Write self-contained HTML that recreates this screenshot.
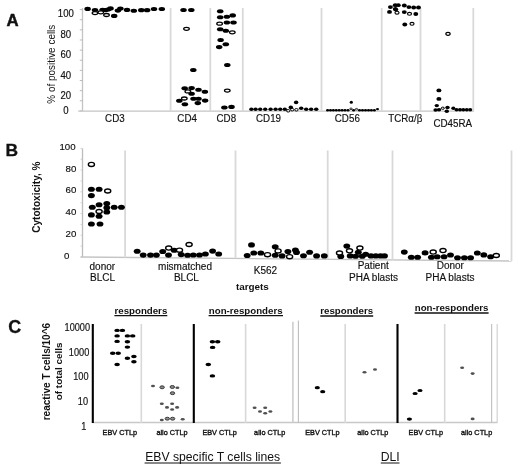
<!DOCTYPE html>
<html><head><meta charset="utf-8"><style>
html,body{margin:0;padding:0;background:#fff;}
body{width:520px;height:467px;overflow:hidden;}
svg{display:block;filter:blur(0.3px);}
text{font-family:"Liberation Sans", sans-serif;fill:#111;}
</style></head><body>
<svg width="520" height="467" viewBox="0 0 520 467">
<rect width="520" height="467" fill="#fff"/>
<text transform="translate(6.6,25.7) scale(1,1)" font-size="16.8" text-anchor="start" font-weight="bold" stroke="#111" stroke-width="0.45">A</text>
<text transform="translate(54.6,64.2) rotate(-90) scale(1,1.05)" font-size="9.95" text-anchor="middle">% of positive cells</text>
<text transform="translate(65.8,17.3) scale(1,1.13)" font-size="9.6" text-anchor="middle" font-weight="normal" stroke="#111" stroke-width="0.15">100</text>
<text transform="translate(65.8,37.5) scale(1,1.13)" font-size="9.6" text-anchor="middle" font-weight="normal" stroke="#111" stroke-width="0.15">80</text>
<text transform="translate(65.8,58.2) scale(1,1.13)" font-size="9.6" text-anchor="middle" font-weight="normal" stroke="#111" stroke-width="0.15">60</text>
<text transform="translate(65.8,78.9) scale(1,1.13)" font-size="9.6" text-anchor="middle" font-weight="normal" stroke="#111" stroke-width="0.15">40</text>
<text transform="translate(65.8,99.4) scale(1,1.13)" font-size="9.6" text-anchor="middle" font-weight="normal" stroke="#111" stroke-width="0.15">20</text>
<text transform="translate(65.8,114.4) scale(1,1.13)" font-size="9.6" text-anchor="middle" font-weight="normal" stroke="#111" stroke-width="0.15">0</text>
<line x1="82.5" y1="8" x2="82.5" y2="111" stroke="#c4c4c4" stroke-width="1.3"/>
<line x1="79.8" y1="9.6" x2="82.4" y2="9.6" stroke="#b4b4b4" stroke-width="0.9"/>
<line x1="79.8" y1="19.73" x2="82.4" y2="19.73" stroke="#b4b4b4" stroke-width="0.9"/>
<line x1="79.8" y1="29.86" x2="82.4" y2="29.86" stroke="#b4b4b4" stroke-width="0.9"/>
<line x1="79.8" y1="39.99" x2="82.4" y2="39.99" stroke="#b4b4b4" stroke-width="0.9"/>
<line x1="79.8" y1="50.120000000000005" x2="82.4" y2="50.120000000000005" stroke="#b4b4b4" stroke-width="0.9"/>
<line x1="79.8" y1="60.25000000000001" x2="82.4" y2="60.25000000000001" stroke="#b4b4b4" stroke-width="0.9"/>
<line x1="79.8" y1="70.38" x2="82.4" y2="70.38" stroke="#b4b4b4" stroke-width="0.9"/>
<line x1="79.8" y1="80.51" x2="82.4" y2="80.51" stroke="#b4b4b4" stroke-width="0.9"/>
<line x1="79.8" y1="90.64" x2="82.4" y2="90.64" stroke="#b4b4b4" stroke-width="0.9"/>
<line x1="79.8" y1="100.77" x2="82.4" y2="100.77" stroke="#b4b4b4" stroke-width="0.9"/>
<line x1="79.8" y1="110.9" x2="82.4" y2="110.9" stroke="#b4b4b4" stroke-width="0.9"/>
<line x1="78.2" y1="111.2" x2="474" y2="111.2" stroke="#c4c4c4" stroke-width="1.3"/>
<line x1="170.6" y1="8" x2="170.6" y2="111" stroke="#d9d9d9" stroke-width="1.8"/>
<line x1="210.3" y1="8" x2="210.3" y2="111" stroke="#d9d9d9" stroke-width="1.8"/>
<line x1="242.8" y1="8" x2="242.8" y2="111" stroke="#d9d9d9" stroke-width="1.8"/>
<line x1="321.5" y1="8" x2="321.5" y2="111" stroke="#d9d9d9" stroke-width="1.8"/>
<line x1="381.7" y1="8" x2="381.7" y2="111" stroke="#d9d9d9" stroke-width="1.8"/>
<line x1="420.5" y1="8" x2="420.5" y2="111" stroke="#d9d9d9" stroke-width="1.8"/>
<line x1="473.3" y1="8" x2="473.3" y2="111" stroke="#d9d9d9" stroke-width="1.8"/>
<text transform="translate(114.9,121.7) scale(1,1.08)" font-size="9.8" text-anchor="middle" font-weight="normal" stroke="#111" stroke-width="0.15">CD3</text>
<text transform="translate(187.1,121.7) scale(1,1.08)" font-size="9.8" text-anchor="middle" font-weight="normal" stroke="#111" stroke-width="0.15">CD4</text>
<text transform="translate(226.3,121.7) scale(1,1.08)" font-size="9.8" text-anchor="middle" font-weight="normal" stroke="#111" stroke-width="0.15">CD8</text>
<text transform="translate(268.5,121.7) scale(1,1.08)" font-size="9.8" text-anchor="middle" font-weight="normal" stroke="#111" stroke-width="0.15">CD19</text>
<text transform="translate(347.3,121.7) scale(1,1.08)" font-size="9.8" text-anchor="middle" font-weight="normal" stroke="#111" stroke-width="0.15">CD56</text>
<text transform="translate(405.3,121.5) scale(1,1.08)" font-size="9.8" text-anchor="middle" font-weight="normal" stroke="#111" stroke-width="0.15">TCR&#945;/&#946;</text>
<text transform="translate(452.7,126.5) scale(1,1.08)" font-size="9.8" text-anchor="middle" font-weight="normal" stroke="#111" stroke-width="0.15">CD45RA</text>
<ellipse cx="87.6" cy="8.9" rx="3.25" ry="2.05" fill="#000"/>
<ellipse cx="95" cy="10.0" rx="3.25" ry="2.05" fill="#000"/>
<ellipse cx="102.6" cy="9.8" rx="3.25" ry="2.05" fill="#000"/>
<ellipse cx="105.8" cy="10.1" rx="3.25" ry="2.05" fill="#000"/>
<ellipse cx="108" cy="9.5" rx="3.25" ry="2.05" fill="#000"/>
<ellipse cx="110.5" cy="8.4" rx="3.25" ry="2.05" fill="#000"/>
<ellipse cx="114.2" cy="15.9" rx="3.25" ry="2.05" fill="#000"/>
<ellipse cx="117.9" cy="10.6" rx="3.25" ry="2.05" fill="#000"/>
<ellipse cx="120.4" cy="8.6" rx="3.25" ry="2.05" fill="#000"/>
<ellipse cx="127.0" cy="9.9" rx="3.25" ry="2.05" fill="#000"/>
<ellipse cx="133.8" cy="10.7" rx="3.25" ry="2.05" fill="#000"/>
<ellipse cx="141.3" cy="10.15" rx="3.25" ry="2.05" fill="#000"/>
<ellipse cx="147.1" cy="10.15" rx="3.25" ry="2.05" fill="#000"/>
<ellipse cx="154" cy="9.0" rx="3.25" ry="2.05" fill="#000"/>
<ellipse cx="161.8" cy="9.0" rx="3.25" ry="2.05" fill="#000"/>
<ellipse cx="95" cy="13.1" rx="2.80" ry="1.50" fill="#fff" stroke="#000" stroke-width="1.3"/>
<ellipse cx="100.8" cy="12.3" rx="2.80" ry="1.50" fill="#fff" stroke="#000" stroke-width="1.3"/>
<ellipse cx="106.5" cy="15.0" rx="2.80" ry="1.50" fill="#fff" stroke="#000" stroke-width="1.3"/>
<ellipse cx="183.5" cy="10" rx="3.25" ry="2.05" fill="#000"/>
<ellipse cx="191.3" cy="10" rx="3.25" ry="2.05" fill="#000"/>
<ellipse cx="193.3" cy="70" rx="3.25" ry="2.05" fill="#000"/>
<ellipse cx="184.7" cy="88.3" rx="3.25" ry="2.05" fill="#000"/>
<ellipse cx="191.6" cy="88.1" rx="3.25" ry="2.05" fill="#000"/>
<ellipse cx="191.6" cy="93.8" rx="3.25" ry="2.05" fill="#000"/>
<ellipse cx="198.5" cy="89.8" rx="3.25" ry="2.05" fill="#000"/>
<ellipse cx="204.9" cy="91.8" rx="3.25" ry="2.05" fill="#000"/>
<ellipse cx="179.3" cy="100.8" rx="3.25" ry="2.05" fill="#000"/>
<ellipse cx="184.9" cy="104.2" rx="3.25" ry="2.05" fill="#000"/>
<ellipse cx="193.5" cy="98.8" rx="3.25" ry="2.05" fill="#000"/>
<ellipse cx="198.5" cy="98.8" rx="3.25" ry="2.05" fill="#000"/>
<ellipse cx="197.8" cy="103.1" rx="3.25" ry="2.05" fill="#000"/>
<ellipse cx="205.1" cy="100.6" rx="3.25" ry="2.05" fill="#000"/>
<ellipse cx="186.5" cy="28.8" rx="2.80" ry="1.50" fill="#fff" stroke="#000" stroke-width="1.3"/>
<ellipse cx="187.8" cy="91.4" rx="2.80" ry="1.50" fill="#fff" stroke="#000" stroke-width="1.3"/>
<ellipse cx="184.3" cy="98.5" rx="2.80" ry="1.50" fill="#fff" stroke="#000" stroke-width="1.3"/>
<ellipse cx="220.2" cy="11.2" rx="3.25" ry="2.05" fill="#000"/>
<ellipse cx="220.2" cy="17.3" rx="3.25" ry="2.05" fill="#000"/>
<ellipse cx="226.9" cy="16.7" rx="3.25" ry="2.05" fill="#000"/>
<ellipse cx="232.7" cy="15.4" rx="3.25" ry="2.05" fill="#000"/>
<ellipse cx="226.9" cy="22.5" rx="3.25" ry="2.05" fill="#000"/>
<ellipse cx="233.5" cy="22.5" rx="3.25" ry="2.05" fill="#000"/>
<ellipse cx="220.2" cy="29.2" rx="3.25" ry="2.05" fill="#000"/>
<ellipse cx="225.8" cy="30.8" rx="3.25" ry="2.05" fill="#000"/>
<ellipse cx="220.6" cy="40" rx="3.25" ry="2.05" fill="#000"/>
<ellipse cx="225.8" cy="44.2" rx="3.25" ry="2.05" fill="#000"/>
<ellipse cx="219.2" cy="47.1" rx="3.25" ry="2.05" fill="#000"/>
<ellipse cx="227.3" cy="65" rx="3.25" ry="2.05" fill="#000"/>
<ellipse cx="224.4" cy="107.5" rx="3.25" ry="2.05" fill="#000"/>
<ellipse cx="231.5" cy="106.9" rx="3.25" ry="2.05" fill="#000"/>
<ellipse cx="219.6" cy="23.7" rx="2.80" ry="1.50" fill="#fff" stroke="#000" stroke-width="1.3"/>
<ellipse cx="232.3" cy="32.3" rx="2.80" ry="1.50" fill="#fff" stroke="#000" stroke-width="1.3"/>
<ellipse cx="227.3" cy="90.6" rx="2.80" ry="1.50" fill="#fff" stroke="#000" stroke-width="1.3"/>
<ellipse cx="390.4" cy="7.1" rx="2.45" ry="1.9" fill="#000"/>
<ellipse cx="395.2" cy="5.2" rx="2.45" ry="1.9" fill="#000"/>
<ellipse cx="398.3" cy="5.2" rx="2.45" ry="1.9" fill="#000"/>
<ellipse cx="395.3" cy="8.9" rx="2.45" ry="1.9" fill="#000"/>
<ellipse cx="395.8" cy="9.6" rx="2.45" ry="1.9" fill="#000"/>
<ellipse cx="404.3" cy="5.5" rx="2.45" ry="1.9" fill="#000"/>
<ellipse cx="408.9" cy="7.1" rx="2.45" ry="1.9" fill="#000"/>
<ellipse cx="413.7" cy="7.5" rx="2.45" ry="1.9" fill="#000"/>
<ellipse cx="418.5" cy="7.5" rx="2.45" ry="1.9" fill="#000"/>
<ellipse cx="389.5" cy="11.9" rx="2.45" ry="1.9" fill="#000"/>
<ellipse cx="404.3" cy="12.1" rx="2.45" ry="1.9" fill="#000"/>
<ellipse cx="415.8" cy="14" rx="2.45" ry="1.9" fill="#000"/>
<ellipse cx="404.8" cy="24.5" rx="2.45" ry="1.9" fill="#000"/>
<ellipse cx="397" cy="12.7" rx="2.03" ry="1.43" fill="#fff" stroke="#000" stroke-width="1.15"/>
<ellipse cx="409.5" cy="13.8" rx="2.03" ry="1.43" fill="#fff" stroke="#000" stroke-width="1.15"/>
<ellipse cx="412" cy="23.8" rx="2.03" ry="1.43" fill="#fff" stroke="#000" stroke-width="1.15"/>
<ellipse cx="251.4" cy="109.2" rx="2.2" ry="1.75" fill="#000"/>
<ellipse cx="255.6" cy="109.2" rx="2.2" ry="1.75" fill="#000"/>
<ellipse cx="260.2" cy="109.2" rx="2.2" ry="1.75" fill="#000"/>
<ellipse cx="265.2" cy="109.2" rx="2.2" ry="1.75" fill="#000"/>
<ellipse cx="270.6" cy="109.2" rx="2.2" ry="1.75" fill="#000"/>
<ellipse cx="275.6" cy="109.2" rx="2.2" ry="1.75" fill="#000"/>
<ellipse cx="280.2" cy="109.2" rx="2.2" ry="1.75" fill="#000"/>
<ellipse cx="284.8" cy="109.2" rx="2.2" ry="1.75" fill="#000"/>
<ellipse cx="290.8" cy="107.4" rx="2.25" ry="1.8" fill="#000"/>
<ellipse cx="301.2" cy="108.3" rx="2.25" ry="1.8" fill="#000"/>
<ellipse cx="306.2" cy="109.2" rx="2.25" ry="1.8" fill="#000"/>
<ellipse cx="311.1" cy="109.2" rx="2.25" ry="1.8" fill="#000"/>
<ellipse cx="316.2" cy="109.2" rx="2.25" ry="1.8" fill="#000"/>
<ellipse cx="296.1" cy="102.4" rx="2.25" ry="1.8" fill="#000"/>
<ellipse cx="288.2" cy="110.8" rx="1.70" ry="1.25" fill="#fff" stroke="#000" stroke-width="1.0"/>
<ellipse cx="292.2" cy="109.7" rx="1.70" ry="1.25" fill="#fff" stroke="#000" stroke-width="1.0"/>
<ellipse cx="296.4" cy="109.8" rx="1.70" ry="1.25" fill="#fff" stroke="#000" stroke-width="1.0"/>
<ellipse cx="327.6" cy="110.2" rx="1.55" ry="1.3" fill="#000"/>
<ellipse cx="330.5" cy="110.2" rx="1.55" ry="1.3" fill="#000"/>
<ellipse cx="333.4" cy="110.2" rx="1.55" ry="1.3" fill="#000"/>
<ellipse cx="336.3" cy="110.2" rx="1.55" ry="1.3" fill="#000"/>
<ellipse cx="339.2" cy="110.2" rx="1.55" ry="1.3" fill="#000"/>
<ellipse cx="342.1" cy="110.2" rx="1.55" ry="1.3" fill="#000"/>
<ellipse cx="345.0" cy="110.2" rx="1.55" ry="1.3" fill="#000"/>
<ellipse cx="348.0" cy="110.2" rx="1.55" ry="1.3" fill="#000"/>
<ellipse cx="353.6" cy="110.2" rx="1.55" ry="1.3" fill="#000"/>
<ellipse cx="359.5" cy="110.2" rx="1.55" ry="1.3" fill="#000"/>
<ellipse cx="362.5" cy="110.2" rx="1.55" ry="1.3" fill="#000"/>
<ellipse cx="365.5" cy="110.2" rx="1.55" ry="1.3" fill="#000"/>
<ellipse cx="368.5" cy="110.2" rx="1.55" ry="1.3" fill="#000"/>
<ellipse cx="371.4" cy="110.2" rx="1.55" ry="1.3" fill="#000"/>
<ellipse cx="374.4" cy="110.2" rx="1.55" ry="1.3" fill="#000"/>
<ellipse cx="351" cy="108.8" rx="1.20" ry="0.80" fill="#fff" stroke="#000" stroke-width="0.8"/>
<ellipse cx="356.5" cy="109.2" rx="1.20" ry="0.80" fill="#fff" stroke="#000" stroke-width="0.8"/>
<ellipse cx="377.5" cy="109.1" rx="1.5" ry="1.2" fill="#000"/>
<ellipse cx="351.3" cy="102.2" rx="1.6" ry="1.5" fill="#000"/>
<ellipse cx="448" cy="33.85" rx="2.15" ry="1.55" fill="#fff" stroke="#000" stroke-width="1.2"/>
<ellipse cx="438.9" cy="90.4" rx="2.5" ry="1.95" fill="#000"/>
<ellipse cx="438.9" cy="98.9" rx="2.5" ry="1.95" fill="#000"/>
<ellipse cx="436.8" cy="105.6" rx="2.2" ry="1.7" fill="#000"/>
<ellipse cx="435.6" cy="110.0" rx="2.2" ry="1.7" fill="#000"/>
<ellipse cx="439.0" cy="109.7" rx="2.2" ry="1.7" fill="#000"/>
<ellipse cx="447.5" cy="107.5" rx="2.2" ry="1.7" fill="#000"/>
<ellipse cx="446.8" cy="111.2" rx="2.2" ry="1.7" fill="#000"/>
<ellipse cx="453.3" cy="108.3" rx="2.05" ry="1.8" fill="#000"/>
<ellipse cx="456.5" cy="109.8" rx="2.05" ry="1.8" fill="#000"/>
<ellipse cx="460" cy="109.8" rx="2.05" ry="1.8" fill="#000"/>
<ellipse cx="463.3" cy="109.8" rx="2.05" ry="1.8" fill="#000"/>
<ellipse cx="466.8" cy="109.8" rx="2.05" ry="1.8" fill="#000"/>
<ellipse cx="470.2" cy="109.7" rx="2.05" ry="1.8" fill="#000"/>
<ellipse cx="442.8" cy="108.2" rx="1.60" ry="1.10" fill="#fff" stroke="#000" stroke-width="1.0"/>
<text transform="translate(5.4,156.3) scale(1,1)" font-size="17.4" text-anchor="start" font-weight="bold" stroke="#111" stroke-width="0.3">B</text>
<text transform="translate(39.7,197.1) rotate(-90) scale(1,1.05)" font-size="10.05" font-weight="bold" text-anchor="middle">Cytotoxicity, %</text>
<text transform="translate(75.6,149.5) scale(1,1.0)" font-size="9.7" text-anchor="end" font-weight="normal" stroke="#111" stroke-width="0.15">100</text>
<text transform="translate(76.39999999999999,171.9) scale(1,1.0)" font-size="9.7" text-anchor="end" font-weight="normal" stroke="#111" stroke-width="0.15">80</text>
<text transform="translate(76.39999999999999,193.3) scale(1,1.0)" font-size="9.7" text-anchor="end" font-weight="normal" stroke="#111" stroke-width="0.15">60</text>
<text transform="translate(76.39999999999999,214.6) scale(1,1.0)" font-size="9.7" text-anchor="end" font-weight="normal" stroke="#111" stroke-width="0.15">40</text>
<text transform="translate(76.39999999999999,236.9) scale(1,1.0)" font-size="9.7" text-anchor="end" font-weight="normal" stroke="#111" stroke-width="0.15">20</text>
<text transform="translate(66.7,258.5) scale(1,1.0)" font-size="9.7" text-anchor="middle" font-weight="normal" stroke="#111" stroke-width="0.15">0</text>
<line x1="82.5" y1="148.4" x2="82.5" y2="257" stroke="#bcbcbc" stroke-width="1.3"/>
<line x1="80.5" y1="257.0" x2="82.4" y2="257.0" stroke="#c8c8c8" stroke-width="0.8"/>
<line x1="80.5" y1="246.14" x2="82.4" y2="246.14" stroke="#c8c8c8" stroke-width="0.8"/>
<line x1="80.5" y1="235.28" x2="82.4" y2="235.28" stroke="#c8c8c8" stroke-width="0.8"/>
<line x1="80.5" y1="224.42000000000002" x2="82.4" y2="224.42000000000002" stroke="#c8c8c8" stroke-width="0.8"/>
<line x1="80.5" y1="213.56" x2="82.4" y2="213.56" stroke="#c8c8c8" stroke-width="0.8"/>
<line x1="80.5" y1="202.7" x2="82.4" y2="202.7" stroke="#c8c8c8" stroke-width="0.8"/>
<line x1="80.5" y1="191.84" x2="82.4" y2="191.84" stroke="#c8c8c8" stroke-width="0.8"/>
<line x1="80.5" y1="180.98000000000002" x2="82.4" y2="180.98000000000002" stroke="#c8c8c8" stroke-width="0.8"/>
<line x1="80.5" y1="170.12" x2="82.4" y2="170.12" stroke="#c8c8c8" stroke-width="0.8"/>
<line x1="80.5" y1="159.26" x2="82.4" y2="159.26" stroke="#c8c8c8" stroke-width="0.8"/>
<line x1="80.5" y1="148.4" x2="82.4" y2="148.4" stroke="#c8c8c8" stroke-width="0.8"/>
<line x1="80.6" y1="257" x2="511.5" y2="261" stroke="#c4c4c4" stroke-width="1.3"/>
<line x1="125.1" y1="150.5" x2="125.1" y2="257.4" stroke="#d9d9d9" stroke-width="1.8"/>
<line x1="235.5" y1="150.5" x2="235.5" y2="258.4" stroke="#d9d9d9" stroke-width="1.8"/>
<line x1="327.7" y1="150.5" x2="327.7" y2="259.3" stroke="#d9d9d9" stroke-width="1.8"/>
<line x1="392.5" y1="150.5" x2="392.5" y2="259.9" stroke="#d9d9d9" stroke-width="1.8"/>
<line x1="511.5" y1="150.5" x2="511.5" y2="261" stroke="#d9d9d9" stroke-width="1.8"/>
<ellipse cx="91.4" cy="189.2" rx="3.45" ry="2.55" fill="#000"/>
<ellipse cx="99.1" cy="189.2" rx="3.45" ry="2.55" fill="#000"/>
<ellipse cx="91.4" cy="195.6" rx="3.45" ry="2.55" fill="#000"/>
<ellipse cx="99.1" cy="204.7" rx="3.45" ry="2.55" fill="#000"/>
<ellipse cx="106.8" cy="203.5" rx="3.45" ry="2.55" fill="#000"/>
<ellipse cx="92.3" cy="207.2" rx="3.45" ry="2.55" fill="#000"/>
<ellipse cx="106.8" cy="207.7" rx="3.45" ry="2.55" fill="#000"/>
<ellipse cx="114.2" cy="207.2" rx="3.45" ry="2.55" fill="#000"/>
<ellipse cx="121.4" cy="207.2" rx="3.45" ry="2.55" fill="#000"/>
<ellipse cx="106.8" cy="212" rx="3.45" ry="2.55" fill="#000"/>
<ellipse cx="91.4" cy="214.9" rx="3.45" ry="2.55" fill="#000"/>
<ellipse cx="99.1" cy="216.3" rx="3.45" ry="2.55" fill="#000"/>
<ellipse cx="91.4" cy="224" rx="3.45" ry="2.55" fill="#000"/>
<ellipse cx="100" cy="224" rx="3.45" ry="2.55" fill="#000"/>
<ellipse cx="91.4" cy="164.4" rx="3.05" ry="2.05" fill="#fff" stroke="#000" stroke-width="1.4"/>
<ellipse cx="107.7" cy="191" rx="3.05" ry="2.05" fill="#fff" stroke="#000" stroke-width="1.4"/>
<ellipse cx="99.1" cy="211.5" rx="3.05" ry="2.05" fill="#fff" stroke="#000" stroke-width="1.4"/>
<ellipse cx="137.2" cy="251.3" rx="3.45" ry="2.55" fill="#000"/>
<ellipse cx="143.2" cy="255.1" rx="3.45" ry="2.55" fill="#000"/>
<ellipse cx="150.5" cy="255.1" rx="3.45" ry="2.55" fill="#000"/>
<ellipse cx="156.4" cy="255.1" rx="3.45" ry="2.55" fill="#000"/>
<ellipse cx="162.7" cy="251.5" rx="3.45" ry="2.55" fill="#000"/>
<ellipse cx="168.5" cy="255.1" rx="3.45" ry="2.55" fill="#000"/>
<ellipse cx="174.2" cy="250.2" rx="3.45" ry="2.55" fill="#000"/>
<ellipse cx="181.2" cy="254.6" rx="3.45" ry="2.55" fill="#000"/>
<ellipse cx="187.6" cy="255.2" rx="3.45" ry="2.55" fill="#000"/>
<ellipse cx="193.3" cy="255" rx="3.45" ry="2.55" fill="#000"/>
<ellipse cx="199.5" cy="255" rx="3.45" ry="2.55" fill="#000"/>
<ellipse cx="205.4" cy="254" rx="3.45" ry="2.55" fill="#000"/>
<ellipse cx="212.6" cy="251.1" rx="3.45" ry="2.55" fill="#000"/>
<ellipse cx="218.7" cy="254" rx="3.45" ry="2.55" fill="#000"/>
<ellipse cx="168.7" cy="248.1" rx="3.05" ry="2.05" fill="#fff" stroke="#000" stroke-width="1.4"/>
<ellipse cx="179.5" cy="250.2" rx="3.05" ry="2.05" fill="#fff" stroke="#000" stroke-width="1.4"/>
<ellipse cx="189.1" cy="244.5" rx="3.05" ry="2.05" fill="#fff" stroke="#000" stroke-width="1.4"/>
<ellipse cx="251.5" cy="244.9" rx="3.45" ry="2.55" fill="#000"/>
<ellipse cx="247.2" cy="255.5" rx="3.45" ry="2.55" fill="#000"/>
<ellipse cx="253.8" cy="253" rx="3.45" ry="2.55" fill="#000"/>
<ellipse cx="260.8" cy="253" rx="3.45" ry="2.55" fill="#000"/>
<ellipse cx="275.2" cy="246.7" rx="3.45" ry="2.55" fill="#000"/>
<ellipse cx="275.2" cy="255.3" rx="3.45" ry="2.55" fill="#000"/>
<ellipse cx="282.1" cy="255.9" rx="3.45" ry="2.55" fill="#000"/>
<ellipse cx="287.9" cy="251.6" rx="3.45" ry="2.55" fill="#000"/>
<ellipse cx="295.4" cy="250.1" rx="3.45" ry="2.55" fill="#000"/>
<ellipse cx="296.5" cy="252.4" rx="3.45" ry="2.55" fill="#000"/>
<ellipse cx="303.5" cy="255.7" rx="3.45" ry="2.55" fill="#000"/>
<ellipse cx="309.6" cy="252.2" rx="3.45" ry="2.55" fill="#000"/>
<ellipse cx="316.6" cy="255.9" rx="3.45" ry="2.55" fill="#000"/>
<ellipse cx="324.3" cy="255.9" rx="3.45" ry="2.55" fill="#000"/>
<ellipse cx="267.5" cy="254.7" rx="3.05" ry="2.05" fill="#fff" stroke="#000" stroke-width="1.4"/>
<ellipse cx="278.1" cy="250.9" rx="3.05" ry="2.05" fill="#fff" stroke="#000" stroke-width="1.4"/>
<ellipse cx="289.6" cy="256.7" rx="3.05" ry="2.05" fill="#fff" stroke="#000" stroke-width="1.4"/>
<ellipse cx="340.8" cy="256.4" rx="3.45" ry="2.55" fill="#000"/>
<ellipse cx="346.8" cy="246.1" rx="3.45" ry="2.55" fill="#000"/>
<ellipse cx="350.2" cy="255.9" rx="3.45" ry="2.55" fill="#000"/>
<ellipse cx="358.3" cy="252.2" rx="3.45" ry="2.55" fill="#000"/>
<ellipse cx="355.6" cy="256.2" rx="3.45" ry="2.55" fill="#000"/>
<ellipse cx="362.3" cy="256.2" rx="3.45" ry="2.55" fill="#000"/>
<ellipse cx="365.7" cy="254.2" rx="3.45" ry="2.55" fill="#000"/>
<ellipse cx="371" cy="255.9" rx="3.45" ry="2.55" fill="#000"/>
<ellipse cx="375.8" cy="255.9" rx="3.45" ry="2.55" fill="#000"/>
<ellipse cx="380.5" cy="255.9" rx="3.45" ry="2.55" fill="#000"/>
<ellipse cx="384.5" cy="255.9" rx="3.45" ry="2.55" fill="#000"/>
<ellipse cx="339.5" cy="253.0" rx="3.05" ry="2.05" fill="#fff" stroke="#000" stroke-width="1.4"/>
<ellipse cx="349.5" cy="250.8" rx="3.05" ry="2.05" fill="#fff" stroke="#000" stroke-width="1.4"/>
<ellipse cx="359.9" cy="248.1" rx="3.05" ry="2.05" fill="#fff" stroke="#000" stroke-width="1.4"/>
<ellipse cx="404.3" cy="252.1" rx="3.45" ry="2.55" fill="#000"/>
<ellipse cx="411.3" cy="257.3" rx="3.45" ry="2.55" fill="#000"/>
<ellipse cx="417.6" cy="257.3" rx="3.45" ry="2.55" fill="#000"/>
<ellipse cx="425.1" cy="252.9" rx="3.45" ry="2.55" fill="#000"/>
<ellipse cx="431.4" cy="257.3" rx="3.45" ry="2.55" fill="#000"/>
<ellipse cx="437.2" cy="256.7" rx="3.45" ry="2.55" fill="#000"/>
<ellipse cx="444.1" cy="256.7" rx="3.45" ry="2.55" fill="#000"/>
<ellipse cx="450.5" cy="255" rx="3.45" ry="2.55" fill="#000"/>
<ellipse cx="457.5" cy="257.8" rx="3.45" ry="2.55" fill="#000"/>
<ellipse cx="464.4" cy="257.8" rx="3.45" ry="2.55" fill="#000"/>
<ellipse cx="470.6" cy="257.8" rx="3.45" ry="2.55" fill="#000"/>
<ellipse cx="477.3" cy="253" rx="3.45" ry="2.55" fill="#000"/>
<ellipse cx="483.8" cy="254.9" rx="3.45" ry="2.55" fill="#000"/>
<ellipse cx="490.6" cy="256.8" rx="3.45" ry="2.55" fill="#000"/>
<ellipse cx="433.2" cy="252.1" rx="3.05" ry="2.05" fill="#fff" stroke="#000" stroke-width="1.4"/>
<ellipse cx="443" cy="250.6" rx="3.05" ry="2.05" fill="#fff" stroke="#000" stroke-width="1.4"/>
<ellipse cx="496.3" cy="255.5" rx="3.05" ry="2.05" fill="#fff" stroke="#000" stroke-width="1.4"/>
<text transform="translate(102.3,269.6) scale(1,1.0)" font-size="10.0" text-anchor="middle" font-weight="normal" stroke="#111" stroke-width="0.15">donor</text>
<text transform="translate(102.5,281.2) scale(1,1.0)" font-size="10.0" text-anchor="middle" font-weight="normal" stroke="#111" stroke-width="0.15">BLCL</text>
<text transform="translate(185,269.6) scale(1,1.0)" font-size="10.0" text-anchor="middle" font-weight="normal" stroke="#111" stroke-width="0.15">mismatched</text>
<text transform="translate(186.4,281.2) scale(1,1.0)" font-size="10.0" text-anchor="middle" font-weight="normal" stroke="#111" stroke-width="0.15">BLCL</text>
<text transform="translate(265.4,273.5) scale(1,1.0)" font-size="10.0" text-anchor="middle" font-weight="normal" stroke="#111" stroke-width="0.15">K562</text>
<text transform="translate(373.2,268.9) scale(1,1.0)" font-size="10.0" text-anchor="middle" font-weight="normal" stroke="#111" stroke-width="0.15">Patient</text>
<text transform="translate(373.5,280.7) scale(1,1.0)" font-size="10.0" text-anchor="middle" font-weight="normal" stroke="#111" stroke-width="0.15">PHA blasts</text>
<text transform="translate(450.3,269.1) scale(1,1.0)" font-size="10.0" text-anchor="middle" font-weight="normal" stroke="#111" stroke-width="0.15">Donor</text>
<text transform="translate(450,280.6) scale(1,1.0)" font-size="10.0" text-anchor="middle" font-weight="normal" stroke="#111" stroke-width="0.15">PHA blasts</text>
<text transform="translate(235.9,290.3) scale(1,1.0)" font-size="9.9" text-anchor="start" font-weight="bold" >targets</text>
<text transform="translate(8.2,332.7) scale(1,1)" font-size="17.9" text-anchor="start" font-weight="bold" stroke="#111" stroke-width="0.3">C</text>
<text transform="translate(50.0,371.6) rotate(-90)" font-size="10.05" font-weight="bold" text-anchor="middle">reactive T cells/10^6</text>
<text transform="translate(61.6,371.4) rotate(-90)" font-size="9.9" font-weight="bold" text-anchor="middle">of total cells</text>
<text transform="translate(90.10000000000001,330.9) scale(1,1.15)" font-size="9.2" text-anchor="end" font-weight="normal" stroke="#111" stroke-width="0.15">10000</text>
<text transform="translate(89.3,355.8) scale(1,1.15)" font-size="9.2" text-anchor="end" font-weight="normal" stroke="#111" stroke-width="0.15">1000</text>
<text transform="translate(88.5,380.4) scale(1,1.15)" font-size="9.2" text-anchor="end" font-weight="normal" stroke="#111" stroke-width="0.15">100</text>
<text transform="translate(88.0,405.09999999999997) scale(1,1.15)" font-size="9.2" text-anchor="end" font-weight="normal" stroke="#111" stroke-width="0.15">10</text>
<text transform="translate(86.3,429.8) scale(1,1.15)" font-size="9.2" text-anchor="end" font-weight="normal" stroke="#111" stroke-width="0.15">1</text>
<line x1="92.7" y1="422.5" x2="497.5" y2="422.5" stroke="#c8c8c8" stroke-width="1.3"/>
<line x1="92.8" y1="324" x2="92.8" y2="423" stroke="#000" stroke-width="2.1"/>
<line x1="193.8" y1="324" x2="193.8" y2="423" stroke="#000" stroke-width="2.1"/>
<line x1="397.5" y1="324" x2="397.5" y2="423" stroke="#000" stroke-width="2.1"/>
<line x1="141.3" y1="324" x2="141.3" y2="423" stroke="#d8d8d8" stroke-width="1.6"/>
<line x1="245.6" y1="324" x2="245.6" y2="423" stroke="#d8d8d8" stroke-width="1.6"/>
<line x1="345.2" y1="324" x2="345.2" y2="423" stroke="#d8d8d8" stroke-width="1.6"/>
<line x1="444.7" y1="324" x2="444.7" y2="423" stroke="#d8d8d8" stroke-width="1.6"/>
<line x1="292.9" y1="321.7" x2="292.9" y2="423" stroke="#cacaca" stroke-width="1.5"/>
<line x1="298.4" y1="320.5" x2="298.4" y2="423" stroke="#bdbdbd" stroke-width="1.1"/>
<line x1="491.6" y1="324" x2="491.6" y2="423" stroke="#c4c4c4" stroke-width="1.2"/>
<line x1="497.2" y1="324" x2="497.2" y2="423" stroke="#d6d6d6" stroke-width="1.3"/>
<text transform="translate(140.9,313.6) scale(1,0.95)" font-size="9.7" text-anchor="middle" font-weight="bold" >responders</text>
<text transform="translate(245.7,313.5) scale(1,0.95)" font-size="9.7" text-anchor="middle" font-weight="bold" >non-responders</text>
<text transform="translate(346.7,313.7) scale(1,0.95)" font-size="9.7" text-anchor="middle" font-weight="bold" >responders</text>
<text transform="translate(451.6,311.1) scale(1,0.95)" font-size="9.7" text-anchor="middle" font-weight="bold" >non-responders</text>
<line x1="114.4" y1="315.7" x2="167.3" y2="315.7" stroke="#111" stroke-width="1.3"/>
<line x1="208.6" y1="315.6" x2="283.0" y2="315.6" stroke="#111" stroke-width="1.3"/>
<line x1="320.3" y1="316.0" x2="373.2" y2="316.0" stroke="#111" stroke-width="1.3"/>
<line x1="414.6" y1="313.0" x2="488.6" y2="313.0" stroke="#111" stroke-width="1.3"/>
<text transform="translate(119.8,435.4) scale(1,1.05)" font-size="7.3" text-anchor="middle" font-weight="normal" stroke="#111" stroke-width="0.35">EBV CTLp</text>
<text transform="translate(172,435.4) scale(1,1.05)" font-size="7.3" text-anchor="middle" font-weight="normal" stroke="#111" stroke-width="0.35">allo CTLp</text>
<text transform="translate(219.6,435.4) scale(1,1.05)" font-size="7.3" text-anchor="middle" font-weight="normal" stroke="#111" stroke-width="0.35">EBV CTLp</text>
<text transform="translate(269.7,435.4) scale(1,1.05)" font-size="7.3" text-anchor="middle" font-weight="normal" stroke="#111" stroke-width="0.35">allo CTLp</text>
<text transform="translate(322.4,435.4) scale(1,1.05)" font-size="7.3" text-anchor="middle" font-weight="normal" stroke="#111" stroke-width="0.35">EBV CTLp</text>
<text transform="translate(372.8,435.4) scale(1,1.05)" font-size="7.3" text-anchor="middle" font-weight="normal" stroke="#111" stroke-width="0.35">allo CTLp</text>
<text transform="translate(425.8,435.4) scale(1,1.05)" font-size="7.3" text-anchor="middle" font-weight="normal" stroke="#111" stroke-width="0.35">EBV CTLp</text>
<text transform="translate(476.6,435.4) scale(1,1.05)" font-size="7.3" text-anchor="middle" font-weight="normal" stroke="#111" stroke-width="0.35">allo CTLp</text>
<text transform="translate(212.7,460.9) scale(1,1.0)" font-size="12.2" text-anchor="middle" font-weight="normal" >EBV specific T cells lines</text>
<text transform="translate(390.2,460.9) scale(1,1.0)" font-size="12.2" text-anchor="middle" font-weight="normal" >DLI</text>
<line x1="144.6" y1="463.0" x2="280.9" y2="463.0" stroke="#111" stroke-width="1"/>
<line x1="380.8" y1="463.0" x2="399.5" y2="463.0" stroke="#111" stroke-width="1"/>
<ellipse cx="117.1" cy="330.4" rx="2.8" ry="1.7" fill="#000"/>
<ellipse cx="122.4" cy="330.4" rx="2.8" ry="1.7" fill="#000"/>
<ellipse cx="117.1" cy="335.9" rx="2.8" ry="1.7" fill="#000"/>
<ellipse cx="127.4" cy="335.9" rx="2.8" ry="1.7" fill="#000"/>
<ellipse cx="132.7" cy="335.9" rx="2.8" ry="1.7" fill="#000"/>
<ellipse cx="117.1" cy="341.4" rx="2.8" ry="1.7" fill="#000"/>
<ellipse cx="127.4" cy="341.8" rx="2.8" ry="1.7" fill="#000"/>
<ellipse cx="127.4" cy="347.1" rx="2.8" ry="1.7" fill="#000"/>
<ellipse cx="112.7" cy="353.2" rx="2.8" ry="1.7" fill="#000"/>
<ellipse cx="118.2" cy="353.2" rx="2.8" ry="1.7" fill="#000"/>
<ellipse cx="127.4" cy="358.2" rx="2.8" ry="1.7" fill="#000"/>
<ellipse cx="133.9" cy="356.5" rx="2.8" ry="1.7" fill="#000"/>
<ellipse cx="133.9" cy="361.8" rx="2.8" ry="1.7" fill="#000"/>
<ellipse cx="117.1" cy="364.5" rx="2.8" ry="1.7" fill="#000"/>
<ellipse cx="212.4" cy="341.8" rx="2.8" ry="1.7" fill="#000"/>
<ellipse cx="217.7" cy="341.8" rx="2.8" ry="1.7" fill="#000"/>
<ellipse cx="212.6" cy="347.4" rx="2.8" ry="1.7" fill="#000"/>
<ellipse cx="208.3" cy="364.5" rx="2.8" ry="1.7" fill="#000"/>
<ellipse cx="212.4" cy="375.9" rx="2.8" ry="1.7" fill="#000"/>
<ellipse cx="317.3" cy="387.7" rx="2.5999999999999996" ry="1.5999999999999999" fill="#000"/>
<ellipse cx="322.7" cy="391.7" rx="2.5999999999999996" ry="1.5999999999999999" fill="#000"/>
<ellipse cx="415.1" cy="393.5" rx="2.5999999999999996" ry="1.5999999999999999" fill="#000"/>
<ellipse cx="420" cy="390.5" rx="2.5999999999999996" ry="1.5999999999999999" fill="#000"/>
<ellipse cx="409.4" cy="419.1" rx="2.5999999999999996" ry="1.5999999999999999" fill="#000"/>
<ellipse cx="162.1" cy="387.3" rx="2.25" ry="1.45" fill="#8a8a8a" stroke="#3c3c3c" stroke-width="1.0"/>
<ellipse cx="172.3" cy="387" rx="2.25" ry="1.45" fill="#8a8a8a" stroke="#3c3c3c" stroke-width="1.0"/>
<ellipse cx="172.5" cy="393.2" rx="2.25" ry="1.45" fill="#8a8a8a" stroke="#3c3c3c" stroke-width="1.0"/>
<ellipse cx="167.3" cy="418.7" rx="2.25" ry="1.45" fill="#8a8a8a" stroke="#3c3c3c" stroke-width="1.0"/>
<ellipse cx="172.6" cy="418.7" rx="2.25" ry="1.45" fill="#8a8a8a" stroke="#3c3c3c" stroke-width="1.0"/>
<ellipse cx="153" cy="386" rx="2.0" ry="1.3" fill="#505050"/>
<ellipse cx="177.4" cy="387.8" rx="2.0" ry="1.3" fill="#505050"/>
<ellipse cx="161.8" cy="403.7" rx="2.0" ry="1.3" fill="#505050"/>
<ellipse cx="172.1" cy="403.7" rx="2.0" ry="1.3" fill="#505050"/>
<ellipse cx="167" cy="407.4" rx="2.0" ry="1.3" fill="#505050"/>
<ellipse cx="177.1" cy="407.4" rx="2.0" ry="1.3" fill="#505050"/>
<ellipse cx="172.1" cy="409.5" rx="2.0" ry="1.3" fill="#505050"/>
<ellipse cx="161.8" cy="420" rx="2.0" ry="1.3" fill="#505050"/>
<ellipse cx="182.7" cy="419.2" rx="2.0" ry="1.3" fill="#505050"/>
<ellipse cx="254.6" cy="407.7" rx="2.0" ry="1.3" fill="#505050"/>
<ellipse cx="265.2" cy="407.7" rx="2.0" ry="1.3" fill="#505050"/>
<ellipse cx="260" cy="411.5" rx="2.0" ry="1.3" fill="#505050"/>
<ellipse cx="265.2" cy="413.3" rx="2.0" ry="1.3" fill="#505050"/>
<ellipse cx="270.4" cy="411.5" rx="2.0" ry="1.3" fill="#505050"/>
<ellipse cx="364.5" cy="372.3" rx="2.0" ry="1.3" fill="#505050"/>
<ellipse cx="375" cy="369.5" rx="2.0" ry="1.3" fill="#505050"/>
<ellipse cx="462.1" cy="367.7" rx="2.0" ry="1.3" fill="#505050"/>
<ellipse cx="472.6" cy="373.6" rx="2.0" ry="1.3" fill="#505050"/>
<ellipse cx="472.6" cy="418.9" rx="2.0" ry="1.3" fill="#505050"/>
</svg>
</body></html>
